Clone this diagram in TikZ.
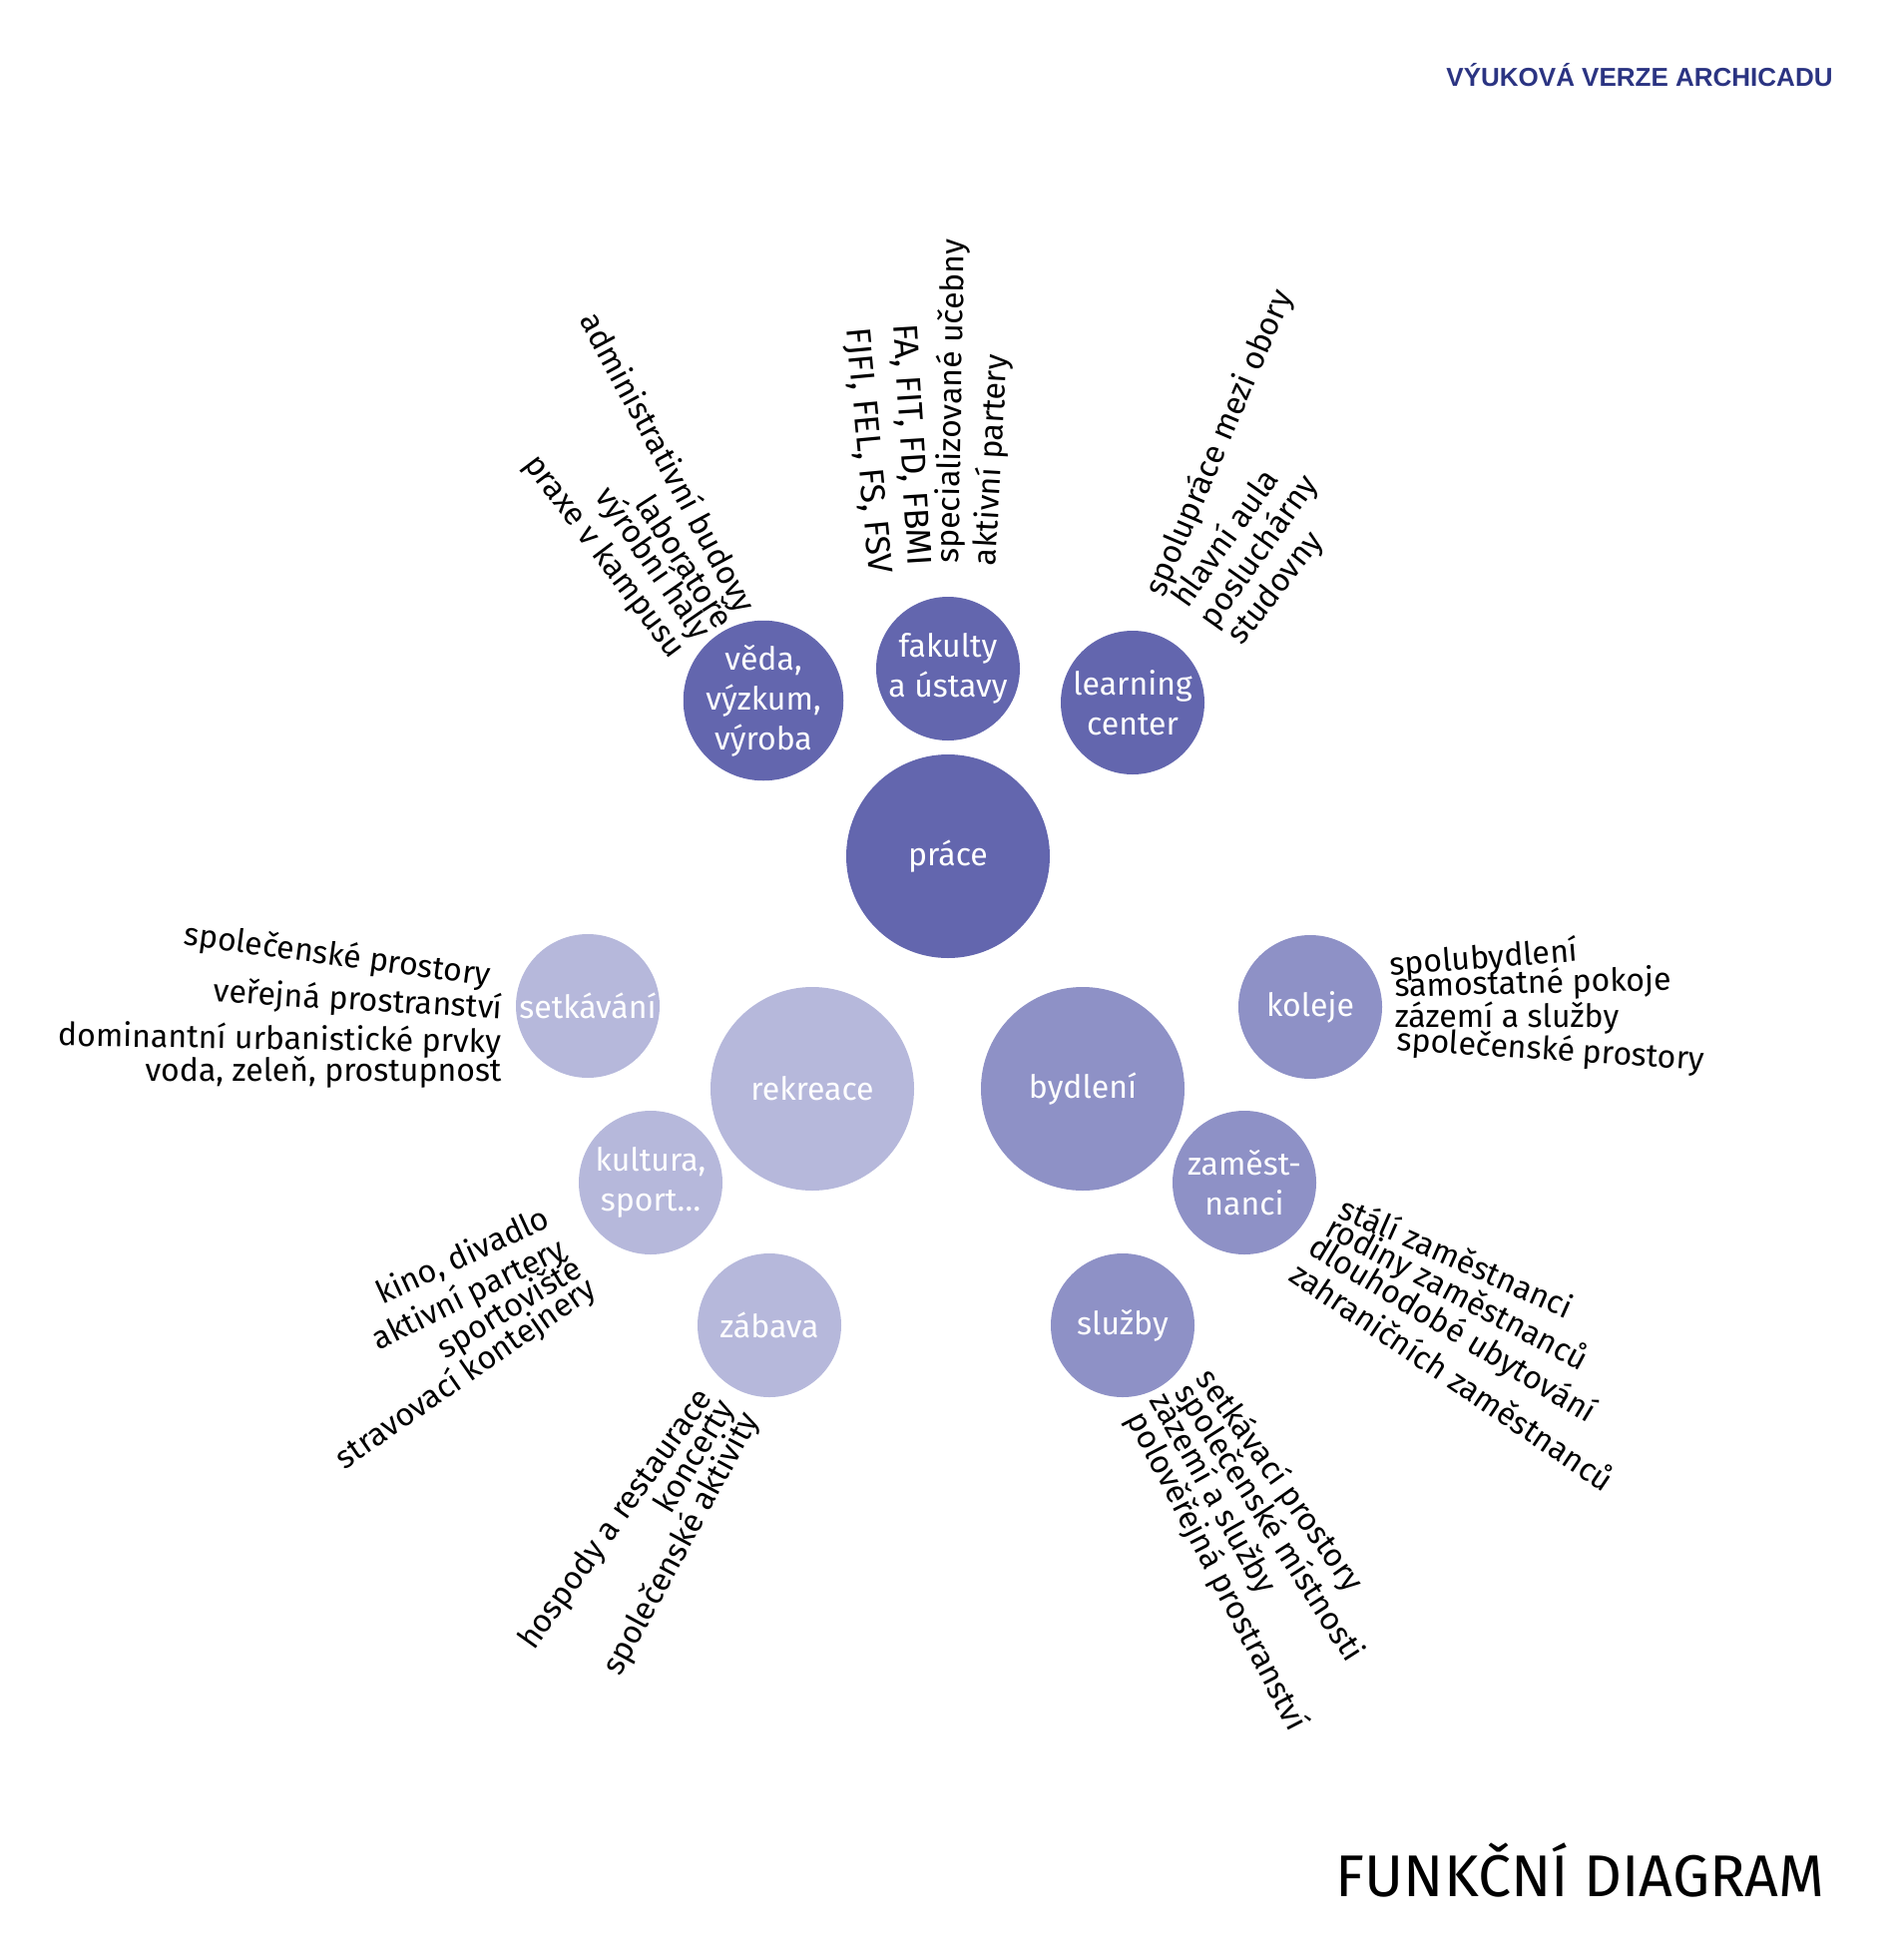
\documentclass[tikz,border=0pt]{standalone}
\usepackage{fontspec}
\setmainfont{Fira Sans}
\newfontfamily\vodoznakfont{Liberation Sans}
\usepackage{tikz}

\definecolor{cprace}{RGB}{99,102,174}
\definecolor{cbydleni}{RGB}{142,145,198}
\definecolor{crekreace}{RGB}{182,184,219}
\definecolor{cvodoznak}{RGB}{43,52,130}

\begin{document}
\begin{tikzpicture}[x=0.5pt,y=-0.5pt,
		kruh/.style={circle, minimum size=102pt, inner sep=0pt, text=white, align=center, font=\fontsize{16}{20}\selectfont},
		kruhmaly/.style={kruh, minimum size=72pt},
		popis/.style={inner sep=0pt, font=\fontsize{16}{19}\selectfont},
		popisvelky/.style={popis, font=\fontsize{17.2}{20}\selectfont}]
		\useasboundingbox (0,0) rectangle (1900,1964);
		
		%prace
		\node[kruh, fill=cprace] (prace) at (950,858) {práce};
		\node[kruhmaly, fill=cprace] (fakulty) at (950,670) {fakulty\\a ústavy};
		\node[kruhmaly, fill=cprace] (veda) at (765,702) {věda,\\výzkum,\\výroba};
		\node[kruhmaly, fill=cprace] (learning) at (1135,704) {learning\\center};
		
		%rekreace
		\node[kruh, fill=crekreace] (rekreace) at (814,1091) {rekreace};
		\node[kruhmaly, fill=crekreace] (setkavani) at (589,1008) {setkávání};
		\node[kruhmaly, fill=crekreace] (kultura) at (652,1185) {kultura,\\sport…};
		\node[kruhmaly, fill=crekreace] (zabava) at (771,1328) {zábava};
		
		%bydleni
		\node[kruh, fill=cbydleni] (bydleni) at (1085,1091) {bydlení};
		\node[kruhmaly, fill=cbydleni] (koleje) at (1313,1009) {koleje};
		\node[kruhmaly, fill=cbydleni] (zamestnanci) at (1247,1185) {zaměst-\\nanci};
		\node[kruhmaly, fill=cbydleni] (sluzby) at (1125,1328) {služby};
		
		%popisky veda
		\node[popis, rotate=-61.7] (veda1) at (668,464) {administrativní budovy};
		\node[popis, rotate=-57.2] (veda2) at (687,562) {laboratoře};
		\node[popis, rotate=-55.2] (veda3) at (654,565) {výrobní haly};
		\node[popis, rotate=-53] (veda4) at (605,558) {praxe v kampusu};
		
		%popisky fakulty
		\node[popisvelky, rotate=-86.5] (fak1) at (912,446) {FA, FIT, FD, FBMI};
		\node[popisvelky, rotate=-84.7] (fak2) at (869,452) {FJFI, FEL, FS, FSV};
		\node[popis, rotate=89] (fak3) at (954,402) {specializované učebny};
		\node[popis, rotate=86.8] (fak4) at (994,461) {aktivní partery};
		
		%popisky learning center
		\node[popis, rotate=66.9] (lc1) at (1222,444) {spolupráce mezi obory};
		\node[popis, rotate=54.6] (lc2) at (1226,538) {hlavní aula};
		\node[popis, rotate=54.5] (lc3) at (1262,553) {posluchárny};
		\node[popis, rotate=52] (lc4) at (1279,590) {studovny};
		
		%popisky setkavani
		\node[popis, rotate=-7.6] (set1) at (338,958) {společenské prostory};
		\node[popis, rotate=-3.4] (set2) at (359,1003) {veřejná prostranství};
		\node[popis, rotate=-0.9] (set3) at (280,1042) {dominantní urbanistické prvky};
		\node[popis] (set4) at (324,1074) {voda, zeleň, prostupnost};
		
		%popisky koleje
		\node[popis, rotate=4.3] (kol1) at (1487,961) {spolubydlení};
		\node[popis, rotate=1.4] (kol2) at (1536,986) {samostatné pokoje};
		\node[popis] (kol3) at (1510,1020) {zázemí a služby};
		\node[popis, rotate=-3.7] (kol4) at (1554,1053) {společenské prostory};
		
		%popisky kultura
		\node[popis, rotate=24.8] (kul1) at (464,1259) {kino, divadlo};
		\node[popis, rotate=26.6] (kul2) at (470,1298) {aktivní partery};
		\node[popis, rotate=31.5] (kul3) at (511,1312) {sportoviště};
		\node[popis, rotate=34.8] (kul4) at (467,1377) {stravovací kontejnery};
		
		%popisky zabava
		\node[popis, rotate=54.7] (zab1) at (618,1523) {hospody a restaurace};
		\node[popis, rotate=59] (zab2) at (697,1460) {koncerty};
		\node[popis, rotate=61.6] (zab3) at (683,1547) {společenské aktivity};
		
		%popisky sluzby
		\node[popis, rotate=-54.6] (slu1) at (1282,1484) {setkávací prostory};
		\node[popis, rotate=-57.4] (slu2) at (1271,1526) {společenské místnosti};
		\node[popis, rotate=-60.6] (slu3) at (1215,1497) {zázemí a služby};
		\node[popis, rotate=-62.6] (slu4) at (1219,1575) {polověřejná prostranství};
		
		%popisky zamestnanci
		\node[popis, rotate=-24] (zam1) at (1460,1259) {stálí zaměstnanci};
		\node[popis, rotate=-28] (zam2) at (1460,1297) {rodiny zaměstnanců};
		\node[popis, rotate=-31.3] (zam3) at (1455,1333) {dlouhodobé ubytování};
		\node[popis, rotate=-34] (zam4) at (1456,1378) {zahraničních zaměstnanců};
		
		%nadpis a vodoznak
		\node[inner sep=0pt, anchor=base east, font=\fontsize{29.5}{32}\selectfont] (nadpis) at (1829,1900) {FUNKČNÍ DIAGRAM};
		\node[inner sep=0pt, anchor=base east, text=cvodoznak, font=\vodoznakfont\bfseries\fontsize{13}{15}\selectfont] (vodoznak) at (1837,87) {VÝUKOVÁ VERZE ARCHICADU};
		
	\end{tikzpicture}
\end{document}
